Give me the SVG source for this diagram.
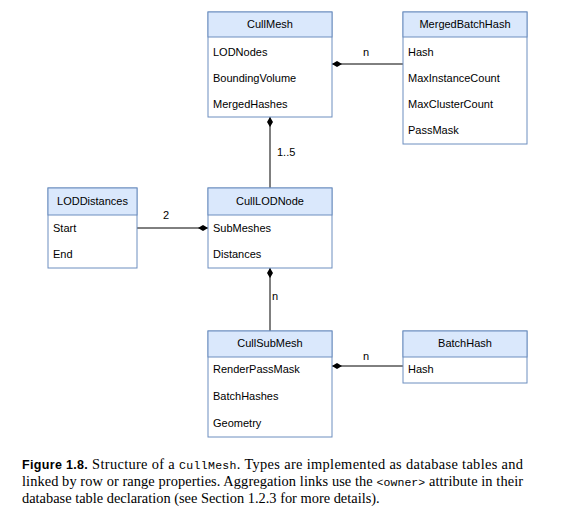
<svg xmlns="http://www.w3.org/2000/svg" width="563" height="525" viewBox="0 0 563 525">
<defs>
<style>
.box{fill:#ffffff;stroke:#6c8ebf;stroke-width:1}
.hdr{fill:#dae8fc;stroke:#6c8ebf;stroke-width:1}
.t{font-family:"Liberation Sans",Arial,sans-serif;font-size:11px;fill:#000}
.c{text-anchor:middle}
.lnk{stroke:#000;stroke-width:1;fill:none;marker-end:url(#dia)}
.cap{font-family:"Liberation Serif","Times New Roman",serif;font-size:14.4px;fill:#000}
.mono{font-family:"Liberation Mono","Courier New",monospace;font-size:11.5px}
.bold{font-family:"Liberation Sans",Arial,sans-serif;font-weight:bold;font-size:12.5px}
</style>
<marker id="dia" viewBox="0 0 10 6" refX="10" refY="3" markerWidth="10" markerHeight="6" markerUnits="userSpaceOnUse" orient="auto">
<path d="M0,3 L5,0 L10,3 L5,6 Z" fill="#000"/>
</marker>
</defs>
<rect width="563" height="525" fill="#fff"/>
<g id="connectors">
<line class="lnk" x1="403" y1="64" x2="332" y2="64"/>
<line class="lnk" x1="270" y1="188" x2="270" y2="117"/>
<line class="lnk" x1="137" y1="228" x2="208" y2="228"/>
<line class="lnk" x1="270" y1="331" x2="270" y2="268"/>
<line class="lnk" x1="403" y1="366" x2="332" y2="366"/>
<text class="t c" x="366" y="56">n</text>
<text class="t" x="277" y="156">1..5</text>
<text class="t c" x="166" y="219">2</text>
<text class="t" x="272" y="300">n</text>
<text class="t c" x="366" y="360">n</text>
</g>
<g id="CullMesh">
<rect class="box" x="208" y="12" width="124" height="105"/>
<rect class="hdr" x="208" y="12" width="124" height="25"/>
<text class="t c" x="270" y="28">CullMesh</text>
<text class="t" x="213" y="56">LODNodes</text>
<text class="t" x="213" y="82">BoundingVolume</text>
<text class="t" x="213" y="108">MergedHashes</text>
</g>
<g id="MergedBatchHash">
<rect class="box" x="403" y="12" width="124" height="132"/>
<rect class="hdr" x="403" y="12" width="124" height="25"/>
<text class="t c" x="465" y="28">MergedBatchHash</text>
<text class="t" x="408" y="56">Hash</text>
<text class="t" x="408" y="82">MaxInstanceCount</text>
<text class="t" x="408" y="108">MaxClusterCount</text>
<text class="t" x="408" y="134">PassMask</text>
</g>
<g id="LODDistances">
<rect class="box" x="48" y="188" width="89" height="80"/>
<rect class="hdr" x="48" y="188" width="89" height="27"/>
<text class="t c" x="92.5" y="205">LODDistances</text>
<text class="t" x="53" y="232">Start</text>
<text class="t" x="53" y="258">End</text>
</g>
<g id="CullLODNode">
<rect class="box" x="208" y="188" width="124" height="80"/>
<rect class="hdr" x="208" y="188" width="124" height="27"/>
<text class="t c" x="270" y="205">CullLODNode</text>
<text class="t" x="213" y="232">SubMeshes</text>
<text class="t" x="213" y="258">Distances</text>
</g>
<g id="CullSubMesh">
<rect class="box" x="208" y="331" width="124" height="106"/>
<rect class="hdr" x="208" y="331" width="124" height="26"/>
<text class="t c" x="270" y="347">CullSubMesh</text>
<text class="t" x="213" y="373">RenderPassMask</text>
<text class="t" x="213" y="400">BatchHashes</text>
<text class="t" x="213" y="427">Geometry</text>
</g>
<g id="BatchHash">
<rect class="box" x="403" y="331" width="124" height="52"/>
<rect class="hdr" x="403" y="331" width="124" height="26"/>
<text class="t c" x="465" y="347">BatchHash</text>
<text class="t" x="408" y="373">Hash</text>
</g>
<g id="caption">
<text class="cap" x="22" y="469" textLength="501" lengthAdjust="spacing"><tspan class="bold">Figure 1.8.</tspan> Structure of a <tspan class="mono">CullMesh</tspan>. Types are implemented as database tables and</text>
<text class="cap" x="22" y="486" textLength="501" lengthAdjust="spacing">linked by row or range properties. Aggregation links use the <tspan class="mono">&lt;owner&gt;</tspan> attribute in their</text>
<text class="cap" x="22" y="503">database table declaration (see Section 1.2.3 for more details).</text>
</g>
</svg>
